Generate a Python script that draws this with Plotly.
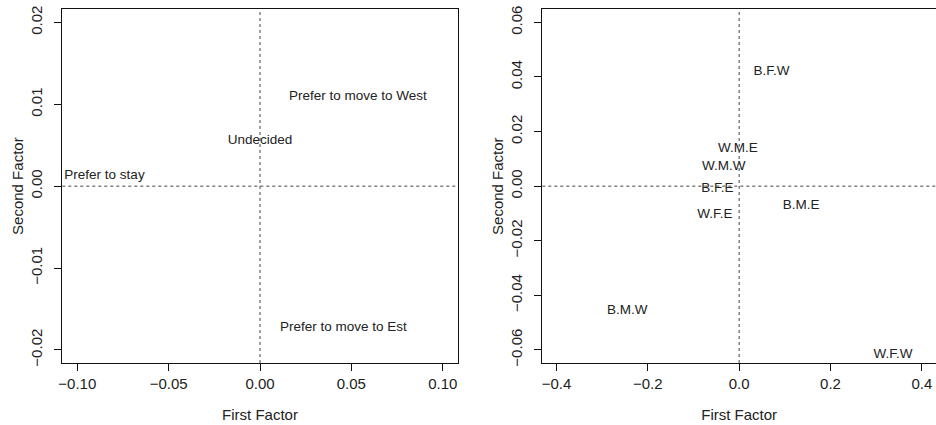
import plotly.graph_objects as go
from plotly.subplots import make_subplots

# Left panel: preference categories
left_labels = ["Prefer to move to West", "Undecided", "Prefer to stay", "Prefer to move to Est"]
left_x = [0.0536, 0.0, -0.0851, 0.0456]
left_y = [0.0109, 0.0055, 0.0013, -0.0173]

# Right panel: group combinations
right_labels = ["B.F.W", "W.M.E", "W.M.W", "B.F.E", "B.M.E", "W.F.E", "B.M.W", "W.F.W"]
right_x = [0.071, -0.003, -0.0335, -0.0477, 0.1357, -0.053, -0.245, 0.337]
right_y = [0.0421, 0.0136, 0.0071, -0.0009, -0.0072, -0.0104, -0.0455, -0.0618]

left_xticks = [-0.10, -0.05, 0.0, 0.05, 0.10]
left_yticks = [-0.02, -0.01, 0.0, 0.01, 0.02]
right_xticks = [-0.4, -0.2, 0.0, 0.2, 0.4]
right_yticks = [-0.06, -0.04, -0.02, 0.0, 0.02, 0.04, 0.06]

W, H = 936, 425
FONT = "Liberation Sans, Arial, Helvetica, sans-serif"
TXT = "#222222"


def fx(px):
    return px / W


def fy(py):
    return 1 - py / H


fig = make_subplots(rows=1, cols=2)

fig.add_trace(go.Scatter(x=left_x, y=left_y, mode="text", text=left_labels,
                         textposition="middle center",
                         textfont=dict(family=FONT, size=13.5, color=TXT),
                         hoverinfo="text", showlegend=False), row=1, col=1)
fig.add_trace(go.Scatter(x=right_x, y=right_y, mode="text", text=right_labels,
                         textposition="middle center",
                         textfont=dict(family=FONT, size=13.5, color=TXT),
                         hoverinfo="text", showlegend=False), row=1, col=2)

ytop = fy(9.3)
ybot = fy(363)

axis_common = dict(showgrid=False, zeroline=False, showline=True, linecolor="#111111",
                   linewidth=1, ticks="outside", ticklen=7, tickwidth=1, tickcolor="#111111",
                   tickfont=dict(family=FONT, size=15, color=TXT),
                   ticklabeloverflow="allow",
                   title_font=dict(family=FONT, size=15, color=TXT), automargin=False)

fig.update_layout(
    width=W, height=H,
    margin=dict(l=0, r=0, t=0, b=0),
    paper_bgcolor="white", plot_bgcolor="white",
    xaxis=dict(axis_common, domain=[fx(62.3), fx(457.7)], range=[-0.1082, 0.1082],
               tickvals=left_xticks, tickformat=".2f", mirror=True,
               title=dict(text="First Factor", standoff=18)),
    yaxis=dict(axis_common, domain=[ybot, ytop], range=[-0.0216, 0.0216],
               tickvals=left_yticks, tickformat=".2f", mirror=True, tickangle=-90,
               ticklabelstandoff=6,
               title=dict(text="Second Factor", standoff=1)),
    xaxis2=dict(axis_common, domain=[fx(542.3), 1.0], range=[-0.431, 0.431],
                tickvals=right_xticks, tickformat=".1f", mirror=True,
                title=dict(text="First Factor", standoff=18)),
    yaxis2=dict(axis_common, domain=[ybot, ytop], range=[-0.0648, 0.0648],
                tickvals=right_yticks, tickformat=".2f", mirror=False, tickangle=-90,
                ticklabelstandoff=6,
                title=dict(text="Second Factor", standoff=1)),
)

dot = dict(color="#444444", width=1, dash="dot")
for xr, yr in (("x", "y"), ("x2", "y2")):
    fig.add_shape(type="line", xref=xr, yref=yr + " domain", x0=0, x1=0, y0=0, y1=1, line=dot)
    fig.add_shape(type="line", xref=xr + " domain", yref=yr, x0=0, x1=1, y0=0, y1=0, line=dot)

fig.write_html("out.html",
               config={"displayModeBar": False},
               post_script="document.body.style.margin='0';document.body.style.overflow='hidden';")
